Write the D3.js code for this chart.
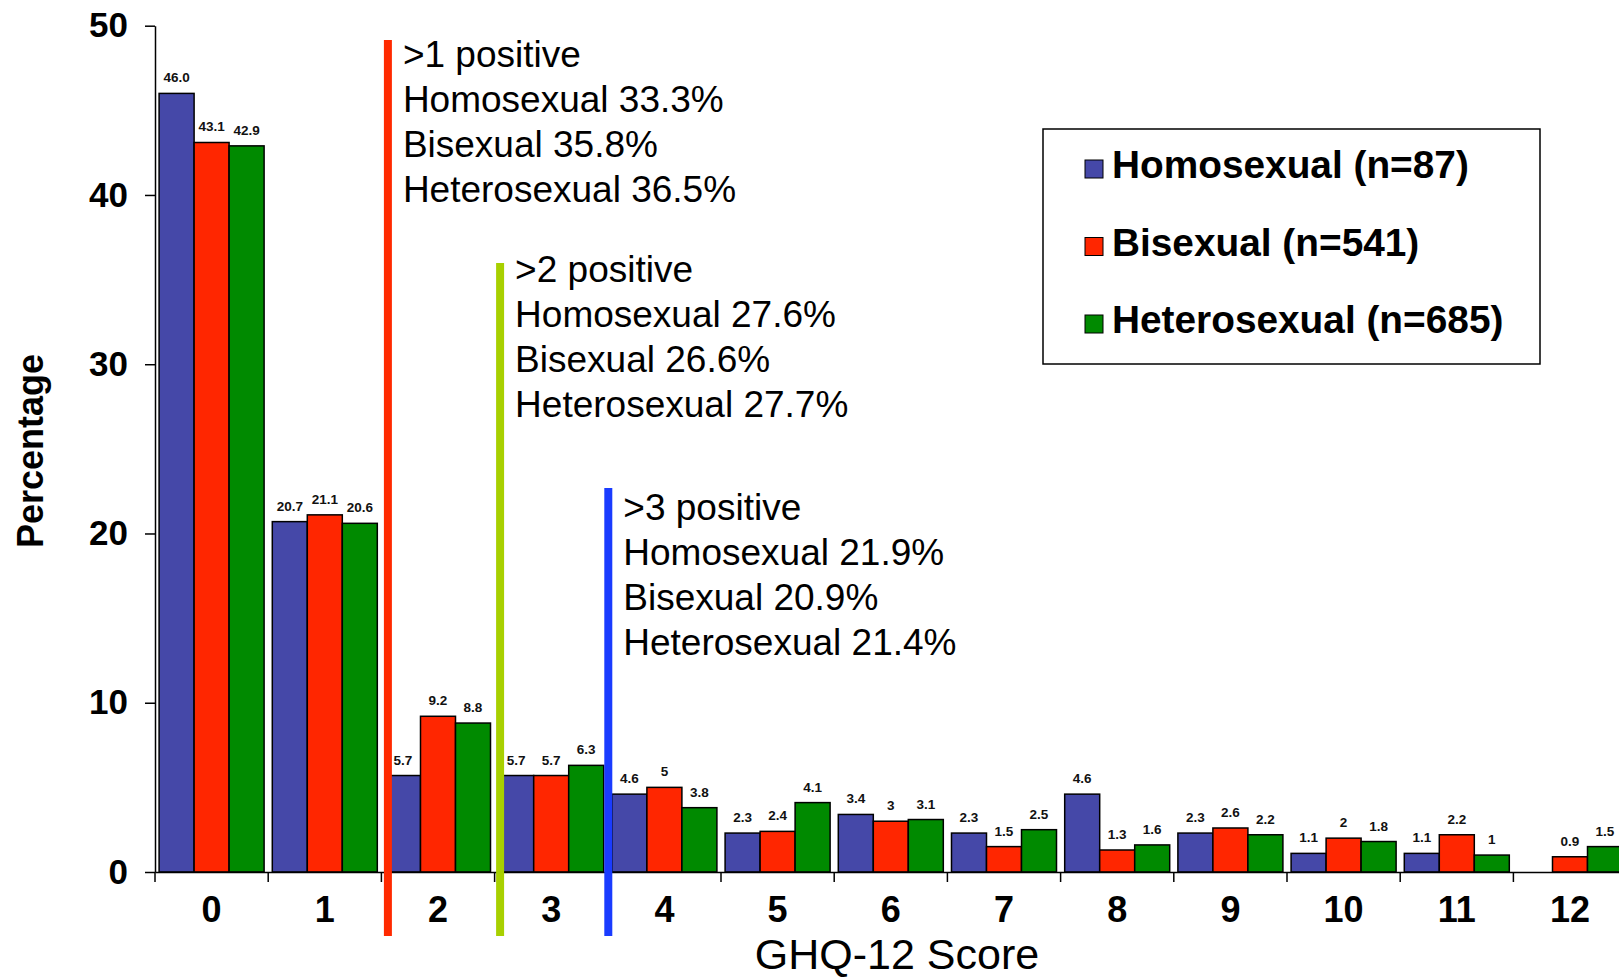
<!DOCTYPE html>
<html>
<head>
<meta charset="utf-8">
<script src="https://cdn.jsdelivr.net/npm/d3@7"></script>
<style>
body { margin: 0; background: #fff; }
text { font-family: "Liberation Sans", Arial, Helvetica, sans-serif; }
</style>
</head>
<body>
<div id="chart"></div>
<script>
var width = 1619;
var height = 978;

// GHQ-12 score distribution (% of each group)
var scores = ["0", "1", "2", "3", "4", "5", "6", "7", "8", "9", "10", "11", "12"];
var homosexual = [46.0, 20.7, 5.7, 5.7, 4.6, 2.3, 3.4, 2.3, 4.6, 2.3, 1.1, 1.1, null];
var bisexual = [43.1, 21.1, 9.2, 5.7, 5, 2.4, 3, 1.5, 1.3, 2.6, 2, 2.2, 0.9];
var heterosexual = [42.9, 20.6, 8.8, 6.3, 3.8, 4.1, 3.1, 2.5, 1.6, 2.2, 1.8, 1, 1.5];
var seriesNames = ["Homosexual (n=87)", "Bisexual (n=541)", "Heterosexual (n=685)"];
var seriesColors = ["#4548a8", "#ff2600", "#008a00"];
var yTicks = [0, 10, 20, 30, 40, 50];

// cut-off lines sit at the start of these score bands
var cutScores = ["2", "3", "4"];
var cutColors = ["#ff2a00", "#a8d000", "#1a3cff"];
var cutTitles = [">1 positive", ">2 positive", ">3 positive"];
var cutHomo = ["33.3%", "27.6%", "21.9%"];
var cutBi = ["35.8%", "26.6%", "20.9%"];
var cutHetero = ["36.5%", "27.7%", "21.4%"];

var svg = d3.select("#chart")
            .append("svg")
            .attr("width", width)
            .attr("height", height)
            .style("display", "block");

var x = d3.scaleBand()
          .domain(scores)
          .range([155, 155 + 13 * 113.2])
          .padding(0);

var xs = d3.scaleBand()
           .domain([0, 1, 2])
           .range([0, x.bandwidth()])
           .paddingInner(0)
           .paddingOuter(0.117);

var y = d3.scaleLinear()
          .domain([0, 50])
          .range([872, 25.7]);

var series = [homosexual, bisexual, heterosexual];

// bars
series.forEach(function(vals, s) {
    var rows = scores.map(function(c, i) { return { c: c, i: i, v: vals[i] }; })
                     .filter(function(d) { return d.v != null; });

    svg.append("g")
        .selectAll("rect")
        .data(rows)
        .join("rect")
        .attr("x", d => x(d.c) + xs(s))
        .attr("y", d => y(d.v))
        .attr("width", xs.bandwidth())
        .attr("height", d => y(0) - y(d.v))
        .attr("fill", seriesColors[s])
        .attr("stroke", "#000")
        .attr("stroke-width", 1.5);

    svg.append("g")
        .selectAll("text")
        .data(rows)
        .join("text")
        .attr("x", d => x(d.c) + xs(s) + xs.bandwidth() / 2)
        .attr("y", d => y(d.v) - 11)
        .attr("text-anchor", "middle")
        .style("font-size", "13.5px")
        .style("font-weight", "bold")
        .attr("fill", "#111")
        .text(d => d.i === 0 ? d.v.toFixed(1) : String(d.v));
});

// y axis
var yAxis = d3.axisLeft(y)
              .tickValues(yTicks)
              .tickSize(10)
              .tickSizeOuter(0)
              .tickPadding(17);
var gy = svg.append("g")
            .attr("transform", "translate(155,0)")
            .call(yAxis);
gy.selectAll("path, line").attr("stroke", "#000").attr("stroke-width", 1.5);
gy.selectAll("text")
  .style("font-size", "35px")
  .style("font-weight", "bold")
  .style("font-family", "'Liberation Sans', Arial, sans-serif")
  .attr("fill", "#000");

// x axis
var xAxis = d3.axisBottom(x)
              .tickSize(0)
              .tickSizeOuter(0)
              .tickPadding(24);
var gx = svg.append("g")
            .attr("transform", "translate(0,872)")
            .call(xAxis);
gx.select(".domain").attr("stroke", "#000").attr("stroke-width", 1.5);
gx.selectAll("text")
  .style("font-size", "36px")
  .style("font-weight", "bold")
  .style("font-family", "'Liberation Sans', Arial, sans-serif")
  .attr("fill", "#000");

// tick marks between score bands
svg.append("g")
    .selectAll("line")
    .data(scores)
    .join("line")
    .attr("x1", d => x(d))
    .attr("x2", d => x(d))
    .attr("y1", y(0))
    .attr("y2", y(0) + 10)
    .attr("stroke", "#000")
    .attr("stroke-width", 1.5);

// axis titles
svg.append("text")
    .attr("transform", "translate(43,451) rotate(-90)")
    .attr("text-anchor", "middle")
    .style("font-size", "36px")
    .style("font-weight", "bold")
    .text("Percentage");

svg.append("text")
    .attr("x", 897)
    .attr("y", 969)
    .attr("text-anchor", "middle")
    .style("font-size", "43px")
    .text("GHQ-12 Score");

// cut-off lines and their notes
var cutOffsets = [6.5, 5.5, 0.5];
var cutTops = [40, 263, 488];
var noteFirstBaseline = [67, 282, 520];

cutScores.forEach(function(c, k) {
    var lx = x(c) + cutOffsets[k];
    svg.append("line")
        .attr("x1", lx)
        .attr("x2", lx)
        .attr("y1", cutTops[k])
        .attr("y2", 936)
        .attr("stroke", cutColors[k])
        .attr("stroke-width", 8);

    var lines = [cutTitles[k],
                 "Homosexual " + cutHomo[k],
                 "Bisexual " + cutBi[k],
                 "Heterosexual " + cutHetero[k]];
    svg.append("g")
        .selectAll("text")
        .data(lines)
        .join("text")
        .attr("x", lx + 15)
        .attr("y", (d, i) => noteFirstBaseline[k] + i * 45)
        .style("font-size", "37px")
        .attr("fill", "#000")
        .text(d => d);
});

// legend
var legend = svg.append("g");
legend.append("rect")
    .attr("x", 1043)
    .attr("y", 129)
    .attr("width", 497)
    .attr("height", 235)
    .attr("fill", "#fff")
    .attr("stroke", "#000")
    .attr("stroke-width", 1.5);

var item = legend.selectAll("g.item")
    .data(seriesNames)
    .join("g")
    .attr("class", "item")
    .attr("transform", (d, i) => "translate(1085," + (178 + i * 77.5) + ")");

item.append("rect")
    .attr("x", 0)
    .attr("y", -18)
    .attr("width", 18)
    .attr("height", 18)
    .attr("fill", (d, i) => seriesColors[i])
    .attr("stroke", "#000")
    .attr("stroke-width", 1);

item.append("text")
    .attr("x", 27)
    .attr("y", 0)
    .style("font-size", "38.8px")
    .style("font-weight", "bold")
    .text(d => d);
</script>
</body>
</html>
